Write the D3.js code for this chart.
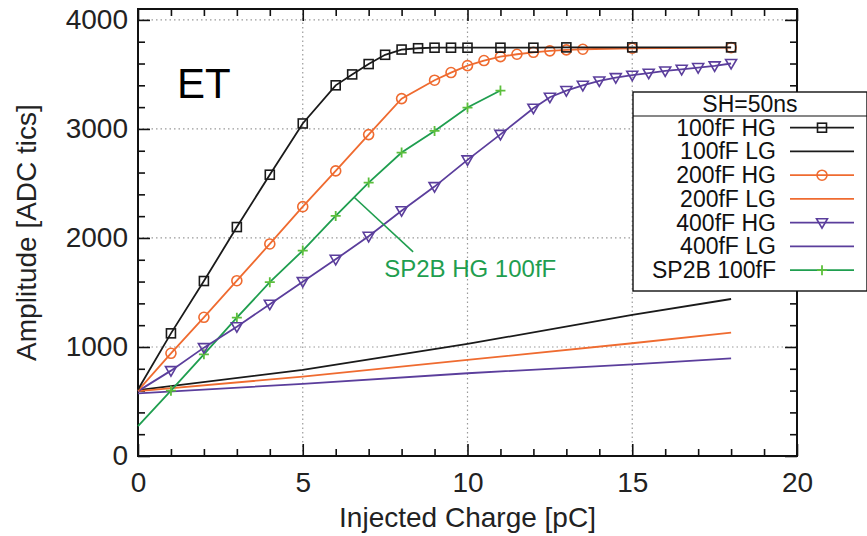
<!DOCTYPE html>
<html><head><meta charset="utf-8">
<script src="https://cdn.jsdelivr.net/npm/d3@7"></script>
<style>
html,body{margin:0;padding:0;background:#fff;}
svg{display:block;font-family:"Liberation Sans",Arial,Helvetica,sans-serif;}
</style></head>
<body>
<svg id="chart" width="867" height="536"></svg>
<script>
// ---- data ----
const xTicks = [0, 5, 10, 15, 20];
const yTicks = [0, 1000, 2000, 3000, 4000];

const hg100X = [0,1,2,3,4,5,6,6.5,7,7.5,8,8.5,9,9.5,10,11,12,13,15,18];
const hg100Y = [610,1125,1605,2100,2580,3050,3400,3500,3595,3680,3728,3740,3745,3745,3745,3745,3745,3748,3748,3748];

const lg100X = [0,5,10,15,18];
const lg100Y = [605,789,1028,1294,1440];

const hg200X = [0,1,2,3,4,5,6,7,8,9,9.5,10,10.5,11,11.5,12,12.5,13,13.5,15,18];
const hg200Y = [600,942,1272,1608,1945,2287,2615,2948,3278,3447,3517,3581,3627,3663,3685,3703,3716,3725,3731,3740,3746];

const lg200X = [0,5,10,15,18];
const lg200Y = [595,728,881,1034,1131];

const hg400X = [0,1,2,3,4,5,6,7,8,9,10,11,12,12.5,13,13.5,14,14.5,15,15.5,16,16.5,17,17.5,18];
const hg400Y = [595,783,994,1186,1392,1599,1804,2015,2250,2471,2716,2950,3190,3291,3352,3400,3440,3471,3493,3511,3532,3547,3563,3578,3600];

const lg400X = [0,5,10,15,18];
const lg400Y = [575,661,759,841,896];

const sp2bX = [0,1,2,3,4,5,6,7,8,9,10,11];
const sp2bY = [275,599,933,1269,1594,1884,2202,2508,2783,2982,3196,3352];

const legendTitle = "SH=50ns";
const seriesNames = ["100fF HG","100fF LG","200fF HG","200fF LG","400fF HG","400fF LG","SP2B 100fF"];
const annotationText = "SP2B HG 100fF";
const annotationFrom = [6.56, 2373];
const annotationTo = [8.35, 1872];
const annotationAt = [7.47, 1642];
const plotLabel = "ET";
const xTitle = "Injected Charge [pC]";
const yTitle = "Amplitude [ADC tics]";

// ---- styles ----
const C_BLACK = "#1a1a1a", C_ORANGE = "#ef6b30", C_PURPLE = "#5b3e9c", C_GREEN = "#1f9e4f", C_PLUS = "#5cbf3c";

const series = [
  {name: seriesNames[0], x: hg100X, y: hg100Y, color: C_BLACK, marker: "square"},
  {name: seriesNames[1], x: lg100X, y: lg100Y, color: C_BLACK, marker: null},
  {name: seriesNames[2], x: hg200X, y: hg200Y, color: C_ORANGE, marker: "circle"},
  {name: seriesNames[3], x: lg200X, y: lg200Y, color: C_ORANGE, marker: null},
  {name: seriesNames[4], x: hg400X, y: hg400Y, color: C_PURPLE, marker: "tri"},
  {name: seriesNames[5], x: lg400X, y: lg400Y, color: C_PURPLE, marker: null},
  {name: seriesNames[6], x: sp2bX, y: sp2bY, color: C_GREEN, marker: "plus"}
];

const svg = d3.select("#chart");
const L = 138, R = 797, T = 9, B = 456;
const x = d3.scaleLinear().domain([0, 20]).range([L, R]);
const y = d3.scaleLinear().domain([0, 4100]).range([B, T]);

svg.append("rect").attr("width", 867).attr("height", 536).attr("fill", "#fff");

// grid
const grid = svg.append("g").attr("stroke", "#9a9a9a").attr("stroke-width", 1.2).attr("stroke-dasharray", "1.5,3");
grid.selectAll("line.gx").data(xTicks.filter(d => d > 0 && d < 20)).enter().append("line")
  .attr("x1", d => x(d)).attr("x2", d => x(d)).attr("y1", B).attr("y2", T);
grid.selectAll("line.gy").data(yTicks.filter(d => d > 0)).enter().append("line")
  .attr("x1", L).attr("x2", R).attr("y1", d => y(d)).attr("y2", d => y(d));

// axes
const font = 28;
function styleAxis(g) {
  g.select(".domain").remove();
  g.selectAll(".tick line").attr("stroke", "#111").attr("stroke-width", 1.6);
  g.selectAll("text").attr("font-size", font).attr("fill", "#222").attr("font-family", "Liberation Sans, Arial, sans-serif");
}
const minorX = d3.range(0, 21, 1).filter(d => d % 5 !== 0);
const minorY = d3.range(0, 4001, 200).filter(d => d % 1000 !== 0);

svg.append("g").attr("transform", `translate(0,${B})`)
  .call(d3.axisBottom(x).tickValues(xTicks).tickSize(-12).tickPadding(16).tickFormat(d3.format("d"))).call(styleAxis);
svg.append("g").attr("transform", `translate(0,${B})`)
  .call(d3.axisBottom(x).tickValues(minorX).tickSize(-7).tickFormat("")).call(styleAxis);
svg.append("g").attr("transform", `translate(0,${T})`)
  .call(d3.axisTop(x).tickValues(xTicks).tickSize(-12).tickFormat("")).call(styleAxis);
svg.append("g").attr("transform", `translate(0,${T})`)
  .call(d3.axisTop(x).tickValues(minorX).tickSize(-7).tickFormat("")).call(styleAxis);

svg.append("g").attr("transform", `translate(${L},0)`)
  .call(d3.axisLeft(y).tickValues(yTicks).tickSize(-12).tickPadding(10).tickFormat(d3.format("d"))).call(styleAxis);
svg.append("g").attr("transform", `translate(${L},0)`)
  .call(d3.axisLeft(y).tickValues(minorY).tickSize(-7).tickFormat("")).call(styleAxis);
svg.append("g").attr("transform", `translate(${R},0)`)
  .call(d3.axisRight(y).tickValues(yTicks).tickSize(-12).tickFormat("")).call(styleAxis);
svg.append("g").attr("transform", `translate(${R},0)`)
  .call(d3.axisRight(y).tickValues(minorY).tickSize(-7).tickFormat("")).call(styleAxis);

// frame
svg.append("rect").attr("x", L).attr("y", T).attr("width", R - L).attr("height", B - T)
  .attr("fill", "none").attr("stroke", "#111").attr("stroke-width", 2);

// axis titles
svg.append("text").attr("x", (L + R) / 2).attr("y", 527).attr("text-anchor", "middle")
  .attr("font-size", font).attr("fill", "#222").text(xTitle);
svg.append("text").attr("transform", `translate(36,${(T + B) / 2}) rotate(-90)`).attr("text-anchor", "middle")
  .attr("font-size", font).attr("fill", "#222").text(yTitle);

// ET label
svg.append("text").attr("x", 177).attr("y", 98).attr("font-size", 42).attr("fill", "#000").text(plotLabel);

// markers
function drawMarker(g, type, cx, cy, color) {
  if (type === "square") {
    g.append("rect").attr("x", cx - 4.5).attr("y", cy - 4.5).attr("width", 9).attr("height", 9)
      .attr("fill", "none").attr("stroke", color).attr("stroke-width", 1.6);
  } else if (type === "circle") {
    g.append("circle").attr("cx", cx).attr("cy", cy).attr("r", 5)
      .attr("fill", "none").attr("stroke", color).attr("stroke-width", 1.6);
  } else if (type === "tri") {
    g.append("path").attr("d", `M${cx - 5.5},${cy - 4} L${cx + 5.5},${cy - 4} L${cx},${cy + 5.5} Z`)
      .attr("fill", "none").attr("stroke", color).attr("stroke-width", 1.6);
  } else if (type === "plus") {
    g.append("path").attr("d", `M${cx - 5},${cy} L${cx + 5},${cy} M${cx},${cy - 5} L${cx},${cy + 5}`)
      .attr("fill", "none").attr("stroke", C_PLUS).attr("stroke-width", 1.8);
  }
}

const line = d3.line().x(d => x(d[0])).y(d => y(d[1]));
const dataG = svg.append("g");
// draw in order: LG lines first, then HG
const order = [1, 3, 5, 6, 4, 2, 0];
order.forEach(i => {
  const s = series[i];
  const pts = s.x.map((v, k) => [v, s.y[k]]);
  dataG.append("path").datum(pts).attr("d", line).attr("fill", "none")
    .attr("stroke", s.color).attr("stroke-width", 1.8);
  if (s.marker) {
    const mg = dataG.append("g");
    pts.filter(p => p[0] > 0).forEach(p => drawMarker(mg, s.marker, x(p[0]), y(p[1]), s.color));
  }
});

// annotation
svg.append("line").attr("x1", x(annotationFrom[0])).attr("y1", y(annotationFrom[1]))
  .attr("x2", x(annotationTo[0])).attr("y2", y(annotationTo[1]))
  .attr("stroke", C_GREEN).attr("stroke-width", 1.6);
svg.append("text").attr("x", x(annotationAt[0])).attr("y", y(annotationAt[1]))
  .attr("font-size", 24).attr("fill", C_GREEN).text(annotationText);

// legend
const lg = svg.append("g");
const LX = 633, LY = 92, LW = 234, LH = 199, rowH = 23.75;
lg.append("rect").attr("x", LX).attr("y", LY).attr("width", LW).attr("height", LH)
  .attr("fill", "#fff").attr("stroke", "#111").attr("stroke-width", 1.4);
lg.append("line").attr("x1", LX).attr("x2", LX + LW).attr("y1", 116).attr("y2", 116)
  .attr("stroke", "#111").attr("stroke-width", 1.2);
lg.append("text").attr("x", 750).attr("y", 112).attr("text-anchor", "middle")
  .attr("font-size", 23).attr("fill", "#111").text(legendTitle);
series.forEach((s, i) => {
  const cy = 127.7 + i * rowH;
  lg.append("text").attr("x", 776).attr("y", cy + 8).attr("text-anchor", "end")
    .attr("font-size", 23).attr("fill", "#111").text(s.name);
  lg.append("line").attr("x1", 790).attr("x2", 854).attr("y1", cy).attr("y2", cy)
    .attr("stroke", s.color).attr("stroke-width", 1.8);
  if (s.marker) drawMarker(lg, s.marker, 822, cy, s.color);
});
</script>
</body></html>
